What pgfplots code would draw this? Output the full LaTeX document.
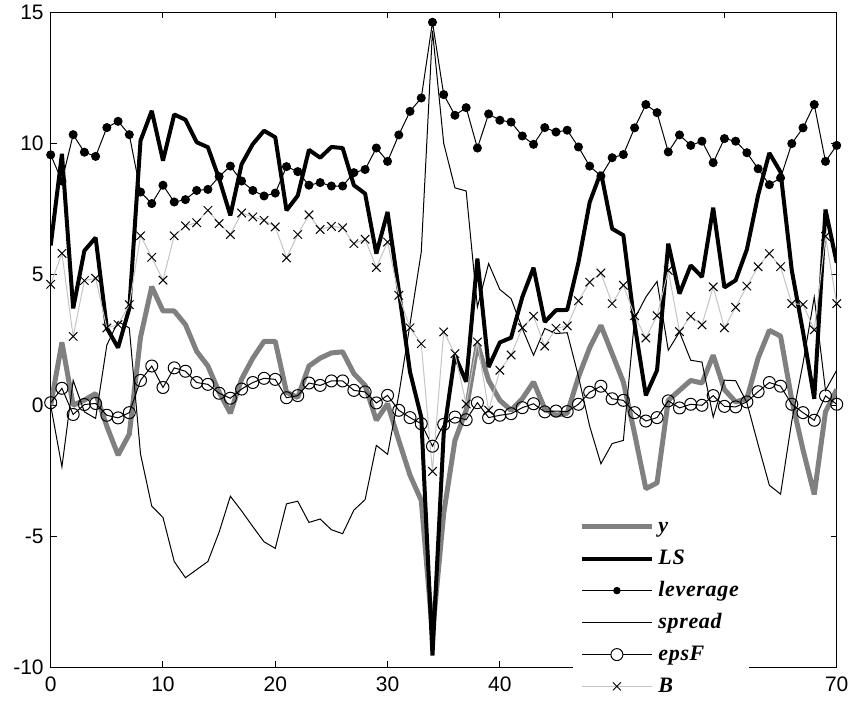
\documentclass[border=0pt]{standalone}
\usepackage{fontspec}
\setmainfont{Liberation Sans}
\newfontfamily\legfont{Liberation Serif}[LetterSpace=3]
\usepackage{pgfplots}
\usepackage{pgfplotstable}
\pgfplotsset{compat=1.18}

\definecolor{ygray}{HTML}{808080}
\definecolor{bgray}{HTML}{C4C4C4}

% x  y  LS  leverage  spread  epsF  B
\pgfplotstableread{
x  y     LS     lev    spread  epsF   B
0  0.00  6.10   9.56   0.00    0.10   4.62
1  2.40  9.60   8.56  -2.35    0.65   5.80
2  0.00  3.70  10.33   0.95   -0.35   2.63
3  0.20  5.90   9.66  -0.25    0.03   4.76
4  0.45  6.40   9.50  -0.50    0.07   4.85
5 -0.80  2.95  10.60   2.30   -0.38   2.95
6 -1.90  2.20  10.84   3.20   -0.48   3.08
7 -1.10  3.70  10.33   2.95   -0.28   3.84
8  2.60 10.10   8.14  -1.86    0.95   6.47
9  4.53 11.24   7.70  -3.85    1.50   5.65
10 3.60  9.34   8.40  -4.28    0.68   4.78
11 3.60 11.10   7.76  -5.96    1.43   6.47
12 3.08 10.90   7.85  -6.58    1.30   6.85
13 2.06 10.04   8.20  -6.27    0.87   6.97
14 1.50  9.85   8.24  -5.96    0.80   7.44
15 0.50  8.65   8.73  -4.84    0.46   6.94
16 -0.30 7.25   9.13  -3.47    0.27   6.52
17 1.00  9.20   8.56  -4.03    0.62   7.34
18 1.80  9.97   8.20  -4.63    0.87   7.19
19 2.44 10.48   7.99  -5.21    1.03   7.06
20 2.44 10.23   8.10  -5.46    0.99   6.81
21 0.50  7.44   9.11  -3.76    0.29   5.63
22 0.30  8.00   8.92  -3.66    0.37   6.52
23 1.50  9.75   8.40  -4.47    0.85   7.27
24 1.80  9.45   8.50  -4.34    0.76   6.71
25 2.00  9.86   8.37  -4.75    0.93   6.83
26 2.04  9.82   8.37  -4.90    0.93   6.78
27 1.21  8.40   8.88  -4.00    0.57   6.17
28 0.76  8.08   9.00  -3.60    0.51   6.34
29 -0.57 5.79   9.82  -1.53    0.09   5.26
30 0.06  7.38   9.31  -1.87    0.38   6.23
31 -1.34 4.39  10.32   0.40   -0.19   4.20
32 -2.67 1.27  11.22   3.10   -0.47   2.96
33 -3.63 -0.45 11.73   5.85   -0.70   2.35
34 -8.70 -9.55 14.62  14.30   -1.56  -2.52
35 -4.13 -1.08 11.86  10.00   -0.73   2.80
36 -1.34 1.90  11.07   8.30   -0.45   1.97
37 -0.19 0.90  11.36   8.18   -0.55   0.05
38 2.35  5.60   9.82   3.75    0.10   2.42
39 0.95  1.46  11.12   5.41   -0.47  -0.19
40 0.19  2.40  10.88   4.42   -0.38   1.34
41 -0.19 2.58  10.81   4.07   -0.32   1.92
42 0.25  4.13  10.28   2.93   -0.09   2.96
43 0.89  5.25   9.96   1.91    0.06   3.40
44 -0.13 3.18  10.60   2.93   -0.25   2.26
45 -0.38 3.63  10.43   2.74   -0.22   2.94
46 -0.30 3.64  10.50   2.77   -0.24   3.03
47 1.08  5.45   9.86   1.10    0.04   3.99
48 2.20  7.75   9.13  -0.80    0.50   4.70
49 3.05  8.90   8.75  -2.23    0.73   5.05
50 1.97  6.74   9.45  -1.46    0.25   3.88
51 0.89  6.49   9.57  -1.34    0.19   4.58
52 -1.08 3.10  10.59   3.30   -0.28   3.42
53 -3.18 0.38  11.48   4.13   -0.60   2.57
54 -2.96 1.34  11.17   4.73   -0.47   3.42
55 0.19  6.17   9.67   2.10    0.17   5.15
56 0.57  4.26  10.32   2.80   -0.10   2.81
57 0.95  5.34   9.92   1.72    0.04   3.40
58 0.85  4.90  10.08   1.65    0.00   3.07
59 1.91  7.54   9.26  -0.45    0.37   4.52
60 0.60  4.50  10.18   0.96   -0.04   2.96
61 0.13  4.77  10.08   0.94   -0.06   3.74
62 0.25  5.95   9.64   0.10    0.13   4.55
63 1.80  8.02   9.03  -1.50    0.52   5.29
64 2.86  9.63   8.42  -3.05    0.87   5.79
65 2.64  8.90   8.68  -3.39    0.73   5.29
66 0.20  5.15   9.99  -0.60    0.04   3.88
67 -1.70 2.80  10.59   1.60   -0.28   3.85
68 -3.40 0.25  11.48   4.13   -0.57   2.88
69 -0.25 7.47   9.31   0.57    0.36   6.45
70 0.60  5.44   9.92   1.34    0.04   3.88
}\data

% equal row heights in the legend
\newcommand\leg[1]{\rule[-2.2pt]{0pt}{9.7pt}#1}

\begin{document}
\begin{tikzpicture}
\begin{axis}[
    name=ax,
    scale only axis,
    width=393pt, height=327.5pt,
    xmin=0, xmax=70, ymin=-10, ymax=15,
    xtick={0,10,...,70},
    ytick={-10,-5,...,15},
    tick align=inside,
    major tick length=3pt,
    axis line style={black, line width=0.5pt},
    every tick/.style={black, line width=0.5pt},
    tick label style={font=\fontsize{10.5}{12}\selectfont},
    xticklabel style={yshift=-1pt},
    /pgf/number format/assume math mode=true,
    legend image code/.code={\draw[#1] (0pt,0pt) -- (35pt,0pt);},
    legend cell align=left,
    legend style={at={(0.6645,0.241)}, anchor=north west, draw=none, fill=white,
        inner xsep=3pt, inner ysep=2pt, row sep=2.9pt,
        font=\legfont\bfseries\itshape\fontsize{11}{12}\selectfont},
]
\addplot[ygray, line width=2.5pt, line join=bevel] table[x=x, y=y] {\data};
\addlegendentry{\leg{y}}
\addplot[black, line width=2pt, line join=bevel] table[x=x, y=LS] {\data};
\addlegendentry{\leg{LS}}
\addplot[black, line width=0.5pt, mark=*, mark size=2pt,
    legend image code/.code={\draw[black, line width=0.5pt] (0pt,0pt) -- (35pt,0pt);
        \fill[black] (17.5pt,0pt) circle[radius=1.6pt];}] table[x=x, y=lev] {\data};
\addlegendentry{\leg{leverage}}
\addplot[black, line width=0.5pt] table[x=x, y=spread] {\data};
\addlegendentry{\leg{spread}}
\addplot[black, line width=0.5pt, mark=o, mark size=3pt, mark options={fill=white},
    legend image code/.code={\draw[black, line width=0.5pt] (0pt,0pt) -- (35pt,0pt);
        \draw[black, line width=0.5pt, fill=white] (17.5pt,0pt) circle[radius=3pt];}] table[x=x, y=epsF] {\data};
\addlegendentry{\leg{epsF}}
\addplot[bgray, line width=0.5pt, mark=x, mark size=3pt, mark options={black},
    legend image code/.code={\draw[bgray, line width=0.5pt] (0pt,0pt) -- (35pt,0pt);
        \draw[black, line width=0.4pt] (15.5pt,-2pt) -- (19.5pt,2pt) (15.5pt,2pt) -- (19.5pt,-2pt);}] table[x=x, y=B] {\data};
\addlegendentry{\leg{B}}
\end{axis}
\pgfresetboundingbox
\path[use as bounding box] ([xshift=-25.35pt,yshift=-17.5pt]ax.south west) rectangle ([xshift=7.15pt,yshift=6.15pt]ax.north east);
\end{tikzpicture}
\end{document}
